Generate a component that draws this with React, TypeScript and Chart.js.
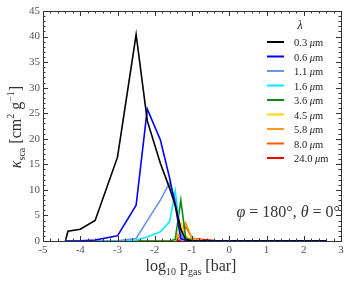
import React, { useEffect, useRef } from "react";
import { Chart, registerables } from "chart.js";

Chart.register(...registerables);

const logP = [-4.4, -4.33, -4.0, -3.6, -3.0, -2.5, -2.2, -1.85, -1.6, -1.45, -1.3, -1.17, -1.0, -0.7, -0.4, 0, 1, 2, 2.6];

const kappa03 = [0, 1.9, 2.3, 4.0, 16.4, 40.4, 23.5, 15.2, 10.3, 7.0, 2.3, 0.3, 0.05, 0, 0, 0, 0, 0, 0];
const kappa06 = [0, 0, 0.05, 0.2, 1.0, 7.0, 25.8, 19.8, 12.3, 7.0, 0.5, 0.1, 0, 0, 0, 0, 0, 0, 0];
const kappa11 = [0, 0, 0, 0, 0.05, 0.5, 4.0, 8.0, 11.4, 8.0, 1.5, 0.2, 0, 0, 0, 0, 0, 0, 0];
const kappa16 = [0, 0, 0, 0, 0, 0.2, 0.8, 1.8, 3.8, 9.8, 1.0, 0.1, 0, 0, 0, 0, 0, 0, 0];
const kappa36 = [0, 0, 0, 0, 0, 0, 0, 0, 0, 0.3, 8.0, 0.6, 0.1, 0, 0, 0, 0, 0, 0];
const kappa45 = [0, 0, 0, 0, 0, 0, 0, 0, 0, 0.2, 3.6, 1.0, 0.1, 0, 0, 0, 0, 0, 0];
const kappa58 = [0, 0, 0, 0, 0, 0, 0, 0, 0, 0.1, 2.0, 3.6, 0.5, 0.1, 0, 0, 0, 0, 0];
const kappa80 = [0, 0, 0, 0, 0, 0, 0, 0, 0, 0, 1.0, 2.8, 0.6, 0.1, 0, 0, 0, 0, 0];
const kappa240 = [0, 0, 0, 0, 0, 0, 0, 0, 0, 0.05, 0.2, 0.4, 0.5, 0.3, 0.1, 0.02, 0, 0, 0];

const wavelengths = ["0.3", "0.6", "1.1", "1.6", "3.6", "4.5", "5.8", "8.0", "24.0"];
const seriesValues = [kappa03, kappa06, kappa11, kappa16, kappa36, kappa45, kappa58, kappa80, kappa240];
const seriesColors = ["#000000", "#0000ff", "#6495ed", "#00eeff", "#108a10", "#ffd700", "#ff9a1a", "#ff5a00", "#ee0000"];

const xTicks = [-5, -4, -3, -2, -1, 0, 1, 2, 3];
const yTicks = [0, 5, 10, 15, 20, 25, 30, 35, 40, 45];

const SERIF = "'Liberation Serif', 'DejaVu Serif', serif";

type Run = { t: string; size: number; italic?: boolean; dy?: number };

function runsWidth(ctx: CanvasRenderingContext2D, runs: Run[]) {
  let w = 0;
  for (const r of runs) {
    ctx.font = `${r.italic ? "italic " : ""}${r.size}px ${SERIF}`;
    w += ctx.measureText(r.t).width;
  }
  return w;
}

function drawRuns(ctx: CanvasRenderingContext2D, runs: Run[], x: number, y: number, align: "left" | "center" | "right") {
  const w = runsWidth(ctx, runs);
  let cx = align === "left" ? x : align === "center" ? x - w / 2 : x - w;
  ctx.textAlign = "left";
  ctx.textBaseline = "alphabetic";
  for (const r of runs) {
    ctx.font = `${r.italic ? "italic " : ""}${r.size}px ${SERIF}`;
    ctx.fillText(r.t, cx, y + (r.dy || 0));
    cx += ctx.measureText(r.t).width;
  }
}

const decorPlugin = {
  id: "decor",
  afterDatasetsDraw(chart: any) {
    const ctx: CanvasRenderingContext2D = chart.ctx;
    const { left, right, top, bottom } = chart.chartArea;
    const xs = chart.scales.x;
    const ys = chart.scales.y;
    ctx.save();
    // frame
    ctx.strokeStyle = "#333";
    ctx.lineWidth = 1;
    ctx.strokeRect(Math.round(left) + 0.5, Math.round(top) + 0.5, Math.round(right - left), Math.round(bottom - top));
    // ticks
    ctx.beginPath();
    for (let v = -5; v <= 3.0001; v += 0.2) {
      const px = Math.round(xs.getPixelForValue(v)) + 0.5;
      const major = Math.abs(v - Math.round(v)) < 1e-6;
      const len = major ? 5 : 2.5;
      ctx.moveTo(px, bottom);
      ctx.lineTo(px, bottom - len);
      ctx.moveTo(px, top);
      ctx.lineTo(px, top + len);
    }
    for (let v = 0; v <= 45.0001; v += 1) {
      const py = Math.round(ys.getPixelForValue(v)) + 0.5;
      const major = v % 5 === 0;
      const len = major ? 5 : 2.5;
      ctx.moveTo(left, py);
      ctx.lineTo(left + len, py);
      ctx.moveTo(right, py);
      ctx.lineTo(right - len, py);
    }
    ctx.stroke();
    // tick labels
    ctx.fillStyle = "#555";
    ctx.font = `11px ${SERIF}`;
    ctx.textAlign = "center";
    ctx.textBaseline = "top";
    for (const v of xTicks) {
      ctx.fillText(String(v), xs.getPixelForValue(v), bottom + 4);
    }
    ctx.textAlign = "right";
    ctx.textBaseline = "middle";
    for (const v of yTicks) {
      ctx.fillText(String(v), left - 3, ys.getPixelForValue(v));
    }
    // axis titles
    ctx.fillStyle = "#333";
    drawRuns(
      ctx,
      [
        { t: "log", size: 16 },
        { t: "10", size: 10, dy: 4 },
        { t: " p", size: 16 },
        { t: "gas", size: 10, dy: 4 },
        { t: " [bar]", size: 16 },
      ],
      191,
      271,
      "center"
    );
    ctx.save();
    ctx.translate(21, 127);
    ctx.rotate(-Math.PI / 2);
    drawRuns(
      ctx,
      [
        { t: "κ", size: 16, italic: true },
        { t: "sca", size: 10, dy: 4 },
        { t: " [cm", size: 16 },
        { t: "2", size: 10, dy: -7 },
        { t: " g", size: 16 },
        { t: "−1", size: 10, dy: -7 },
        { t: "]", size: 16 },
      ],
      0,
      0,
      "center"
    );
    ctx.restore();
    // annotation
    drawRuns(
      ctx,
      [
        { t: "φ", size: 16, italic: true },
        { t: " = 180°, ", size: 16 },
        { t: "θ", size: 16, italic: true },
        { t: " = 0°", size: 16 },
      ],
      340,
      217,
      "right"
    );
    // legend
    ctx.fillStyle = "#222";
    drawRuns(ctx, [{ t: "λ", size: 12, italic: true }], 300, 29, "center");
    for (let i = 0; i < wavelengths.length; i++) {
      const y = 42 + i * 14.5;
      ctx.strokeStyle = seriesColors[i];
      ctx.lineWidth = 2;
      ctx.beginPath();
      ctx.moveTo(267, y);
      ctx.lineTo(284, y);
      ctx.stroke();
      ctx.fillStyle = "#222";
      drawRuns(
        ctx,
        [
          { t: wavelengths[i] + " ", size: 10.5 },
          { t: "μ", size: 10.5, italic: true },
          { t: "m", size: 10.5 },
        ],
        294,
        y + 4,
        "left"
      );
    }
    ctx.restore();
  },
};

export default function App() {
  const ref = useRef<HTMLCanvasElement | null>(null);
  useEffect(() => {
    if (!ref.current) return;
    const chart = new Chart(ref.current, {
      type: "line",
      data: {
        datasets: seriesValues.map((vals, i) => ({
          label: wavelengths[i] + " μm",
          data: logP.map((x, j) => ({ x, y: vals[j] })),
          borderColor: seriesColors[i],
          backgroundColor: seriesColors[i],
          borderWidth: 1.6,
          pointRadius: 0,
          tension: 0,
          fill: false,
        })),
      },
      options: {
        animation: false,
        responsive: false,
        maintainAspectRatio: false,
        layout: { padding: { left: 43, right: 8, top: 11, bottom: 43 } },
        scales: {
          x: { type: "linear", min: -5, max: 3, display: false },
          y: { type: "linear", min: 0, max: 45, display: false },
        },
        plugins: { legend: { display: false }, tooltip: { enabled: false } },
      },
      plugins: [decorPlugin],
    });
    return () => chart.destroy();
  }, []);
  return (
    <div style={{ position: "fixed", left: 0, top: 0, width: 349, height: 284, background: "#fff" }}>
      <canvas ref={ref} width={349} height={284} />
    </div>
  );
}
